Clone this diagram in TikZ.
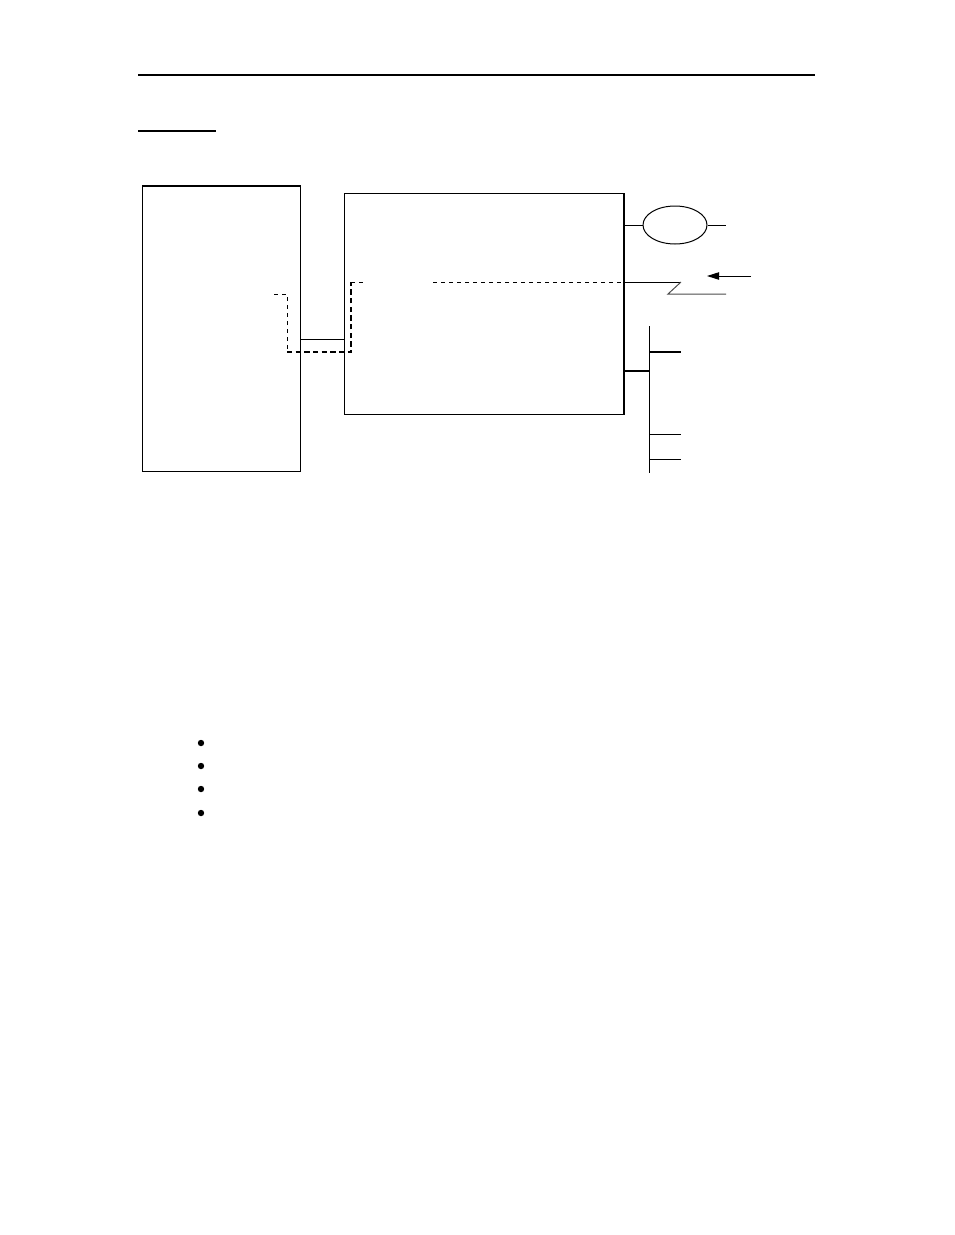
\documentclass[tikz,border=0pt]{standalone}
\usetikzlibrary{shapes.geometric,arrows.meta,positioning,calc}

\tikzset{
  unitbox/.style={draw, anchor=north west, inner sep=0pt},
  thindash/.style={dash pattern=on 3pt off 3pt},
  thickdash/.style={line width=1.5pt, dash pattern=on 4pt off 2.5pt},
  heavy/.style={line width=1.5pt}
}

\begin{document}
\begin{tikzpicture}[x=0.75pt, y=-0.75pt, line width=0.75pt]
   \useasboundingbox (0,0) rectangle (954,1235);

   % Header rules
   \draw[line width=2pt] (138,75) -- (815,75);
   \draw[heavy] (138,131) -- (216,131);

   % Host unit
   \node (host) at (142,186) [unitbox, minimum width=118.5pt, minimum height=213.75pt] {};
   \draw[heavy] (host.north west) -- (host.north east);

   % Central unit
   \node (unit) at (344,193) [unitbox, minimum width=209.25pt, minimum height=165.75pt] {};
   \draw[heavy] (unit.north east) -- (unit.south east);

   % Link between units
   \coordinate (hostport) at (300,339);
   \draw (hostport) -- (hostport -| unit.west);

   % Dashed path
   \draw[thindash] (274,294) -- (287,294) -- (287,352);
   \draw[thickdash] (287,352) -- (351,352) -- (351,282);
   \draw[thindash] (351,282) -- (363,282);
   \coordinate (dashstart) at (433,282);
   \draw[thindash] (dashstart) -- (dashstart -| unit.east);

   % Ring
   \node (ring) at (675,225) [ellipse, draw, minimum width=48pt, minimum height=28.5pt, inner sep=0pt] {};
   \coordinate (ringend) at (726,225);
   \draw (ring.west -| unit.east) -- (ring.west);
   \draw (ring.east) -- (ringend);

   % Zigzag line
   \coordinate (zigtop) at (681,282);
   \coordinate (zigend) at (726,294);
   \draw (dashstart -| unit.east) -- (zigtop);
   \draw[black!70] (zigtop) -- (668,294) -- (zigend);

   % Arrow
   \coordinate (arrtail) at (751,276);
   \coordinate (arrhead) at (707,276);
   \draw[-{Triangle[length=9pt,width=5.5pt]}] (arrtail) -- (arrhead);

   % Bus
   \coordinate (bus) at (649,371);
   \draw[heavy] (bus -| unit.east) -- (bus);
   \coordinate (bustop) at (649,326);
   \coordinate (busbottom) at (649,473);
   \draw (bustop) -- (busbottom);
   \draw[heavy] (649,352) -- (681,352);
   \foreach \y in {434,459}
      \draw (649,\y) -- (681,\y);

   % Bullets
   \foreach \y in {743,766,789,813}
      \fill (201,\y) circle (2.4pt);

\end{tikzpicture}
\end{document}
